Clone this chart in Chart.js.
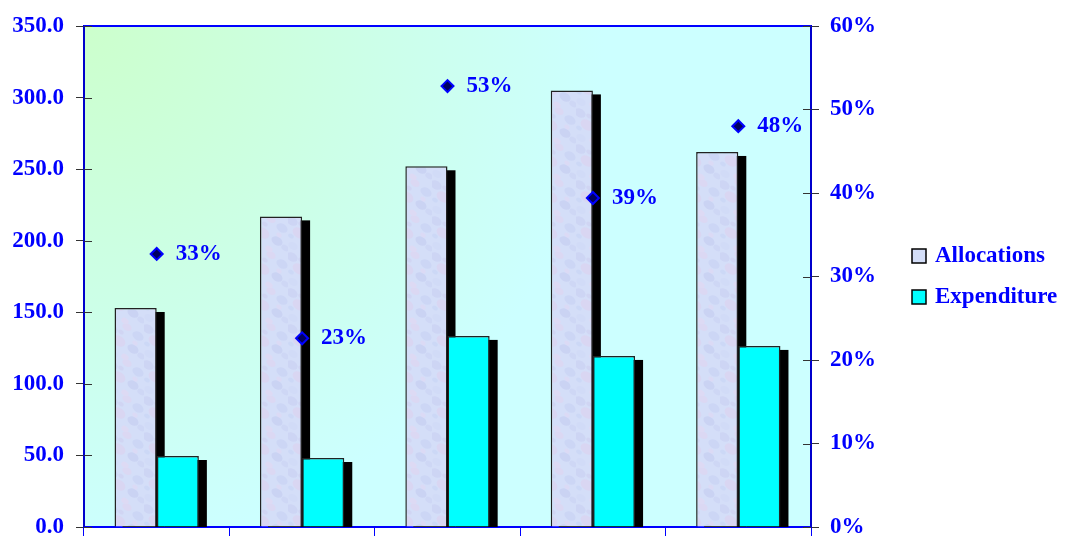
<!DOCTYPE html>
<html>
<head>
<meta charset="utf-8">
<script src="https://cdn.jsdelivr.net/npm/chart.js@4.4.0/dist/chart.umd.min.js"></script>
<style>
html, body { margin: 0; padding: 0; background: #fff; }
#wrap { width: 1065px; height: 537px; }
</style>
</head>
<body>
<div id="wrap"><canvas id="spendChart"></canvas></div>
<script>
// chart values
var categories  = ['', '', '', '', ''];
var allocations = [153, 217, 252, 305, 262];
var expenditure = [49.6, 48.2, 133.5, 119.5, 126.5];
var spendRate   = [32.7, 22.6, 52.8, 39.4, 48.0];
var rateLabels  = ['33%', '23%', '53%', '39%', '48%'];
var seriesNames = ['Allocations', 'Expenditure'];

var FAMILY = "'Liberation Serif', 'Times New Roman', serif";
var FONT = { family: FAMILY, size: 23, weight: 'bold' };
var BLUE = '#0000ff';

var canvas = document.getElementById('spendChart');
var ctx = canvas.getContext('2d');

// pale lavender mottled texture for the Allocations bars
function makeTexture() {
    var c = document.createElement('canvas');
    c.width = 36; c.height = 36;
    var g = c.getContext('2d');
    g.fillStyle = '#d4def8';
    g.fillRect(0, 0, 36, 36);
    var spots = [
        [4, 5, 6, '#cdd5f4'], [19, 3, 5, '#dbd8f3'], [30, 12, 6, '#ccd6f5'],
        [11, 17, 7, '#d9d6f2'], [25, 25, 6, '#cad3f3'], [5, 30, 5, '#d1dbf7'],
        [17, 33, 4, '#dddaf4'], [33, 32, 4, '#ced7f5'], [13, 8, 3, '#d0d5f3'],
        [27, 19, 3, '#dbdaf5'], [3, 20, 3, '#ccd8f6']
    ];
    spots.forEach(function(s) {
        g.fillStyle = s[3];
        g.beginPath();
        g.ellipse(s[0], s[1], s[2], s[2] * 0.7, 0.6, 0, Math.PI * 2);
        g.fill();
    });
    return ctx.createPattern(c, 'repeat');
}
var texture = makeTexture();

// plot area background, frame bits and legend
var backdrop = {
    id: 'backdrop',
    beforeDraw: function(chart) {
        var a = chart.chartArea, c = chart.ctx;
        var grad = c.createRadialGradient(a.left, a.top, 0, a.left, a.top, 520);
        grad.addColorStop(0, '#ccffcc');
        grad.addColorStop(1, '#ccffff');
        c.save();
        c.fillStyle = grad;
        c.fillRect(a.left, a.top, a.right - a.left, a.bottom - a.top);
        c.restore();
    },
    afterDraw: function(chart) {
        var a = chart.chartArea, c = chart.ctx;
        c.save();
        c.strokeStyle = BLUE;
        c.lineWidth = 2;
        c.beginPath();
        c.moveTo(a.left, a.top);
        c.lineTo(a.right, a.top);
        c.stroke();

        // inner half of the value-axis tick marks
        c.strokeStyle = '#333';
        c.lineWidth = 1;
        c.beginPath();
        chart.scales.y.ticks.forEach(function(t) {
            var py = Math.round(chart.scales.y.getPixelForValue(t.value)) + 0.5;
            c.moveTo(a.left, py); c.lineTo(a.left + 8, py);
        });
        chart.scales.y1.ticks.forEach(function(t) {
            var py = Math.round(chart.scales.y1.getPixelForValue(t.value)) + 0.5;
            c.moveTo(a.right - 8, py); c.lineTo(a.right, py);
        });
        c.stroke();

        c.font = 'bold 23px ' + FAMILY;
        c.textBaseline = 'middle';
        c.textAlign = 'left';
        var fills = ['#d4def8', '#00ffff'];
        var ys = [256, 297];
        for (var i = 0; i < 2; i++) {
            var x = a.right + 101;
            c.fillStyle = fills[i];
            c.fillRect(x, ys[i] - 7, 14, 14);
            c.strokeStyle = '#000';
            c.lineWidth = 1.5;
            c.strokeRect(x, ys[i] - 7, 14, 14);
            c.fillStyle = BLUE;
            c.fillText(seriesNames[i], x + 23, ys[i]);
        }
        c.restore();
    }
};

// black drop shadow behind all bars
var barShadow = {
    id: 'barShadow',
    beforeDatasetsDraw: function(chart) {
        var a = chart.chartArea, c = chart.ctx;
        c.save();
        c.beginPath();
        c.rect(a.left, a.top, a.right - a.left, a.bottom - a.top);
        c.clip();
        c.fillStyle = '#000';
        [0, 1].forEach(function(d) {
            chart.getDatasetMeta(d).data.forEach(function(bar) {
                var p = bar.getProps(['x', 'y', 'base', 'width'], true);
                c.fillRect(p.x - p.width / 2 + 8, p.y + 4, p.width, p.base - p.y);
            });
        });
        c.restore();
    }
};

// percentage text beside the diamonds
var rateText = {
    id: 'rateText',
    afterDatasetsDraw: function(chart) {
        var meta = chart.getDatasetMeta(2), c = chart.ctx;
        c.save();
        c.font = 'bold 23px ' + FAMILY;
        c.fillStyle = BLUE;
        c.textAlign = 'left';
        c.textBaseline = 'middle';
        meta.data.forEach(function(pt, i) {
            c.fillText(rateLabels[i], pt.x + 19, pt.y);
        });
        c.restore();
    }
};

function noEdgePadding(s) {
    s.paddingTop = 0;
    s.paddingBottom = 0;
}

var myChart = new Chart(canvas, {
    type: 'bar',
    data: {
        labels: categories,
        datasets: [{
            label: seriesNames[0],
            data: allocations,
            backgroundColor: texture,
            borderColor: '#222',
            borderWidth: 1.5,
            yAxisID: 'y'
        }, {
            label: seriesNames[1],
            data: expenditure,
            backgroundColor: '#00ffff',
            borderColor: '#222',
            borderWidth: 1.5,
            yAxisID: 'y'
        }, {
            type: 'line',
            label: 'Rate',
            data: spendRate,
            yAxisID: 'y1',
            showLine: false,
            pointStyle: 'rectRot',
            pointRadius: 6,
            pointBackgroundColor: '#000060',
            pointBorderColor: BLUE,
            pointBorderWidth: 2,
            order: -1
        }]
    },
    options: {
        responsive: true,
        maintainAspectRatio: false,
        animation: false,
        devicePixelRatio: 1,
        datasets: { bar: { barPercentage: 1, categoryPercentage: 0.58 } },
        layout: { padding: { top: 26, right: 188, left: 0, bottom: 0 } },
        plugins: {
            legend: { display: false },
            tooltip: { enabled: false }
        },
        scales: {
            x: {
                grid: { offset: true, drawOnChartArea: false, tickLength: 9, color: BLUE, tickColor: BLUE },
                border: { color: BLUE, width: 2 },
                ticks: { display: false },
                afterFit: function(s) { s.height = 10; }
            },
            y: {
                min: 0, max: 350,
                ticks: {
                    stepSize: 50, color: BLUE, font: FONT, padding: 12,
                    callback: function(v) { return v.toFixed(1); }
                },
                grid: { drawOnChartArea: false, tickLength: 8, tickColor: '#333' },
                border: { color: '#0000cc', width: 2 },
                afterFit: function(s) { s.width = 84; noEdgePadding(s); }
            },
            y1: {
                position: 'right',
                min: 0, max: 60,
                ticks: {
                    stepSize: 10, color: BLUE, font: FONT, padding: 11,
                    callback: function(v) { return v + '%'; }
                },
                grid: { drawOnChartArea: false, tickLength: 8, tickColor: '#333' },
                border: { color: '#0000cc', width: 2 },
                afterFit: function(s) { s.width = 66; noEdgePadding(s); }
            }
        }
    },
    plugins: [backdrop, barShadow, rateText]
});
</script>
</body>
</html>
